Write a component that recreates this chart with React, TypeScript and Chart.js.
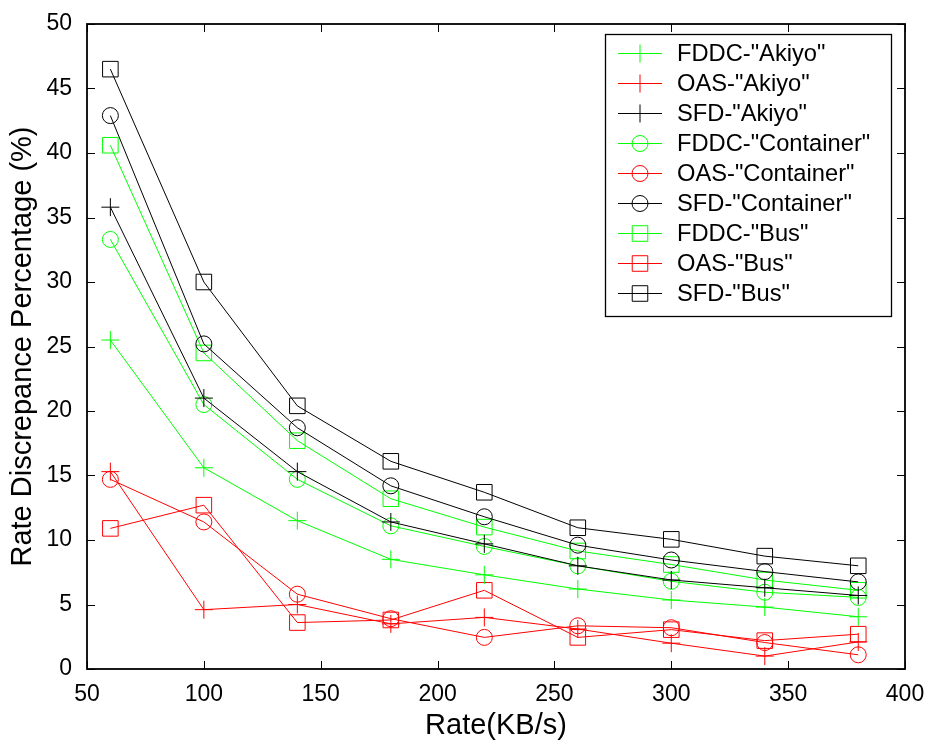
import React, { useEffect, useRef } from 'react';
import { Chart, registerables } from 'chart.js';
Chart.register(...registerables);

const rates = [60, 100, 140, 180, 220, 260, 300, 340, 380];
const fddcAkiyo = [25.5, 15.6, 11.5, 8.5, 7.3, 6.2, 5.35, 4.8, 4.05];
const oasAkiyo = [15.3, 4.6, 5.0, 3.5, 4.0, 3.1, 2.0, 1.0, 2.1];
const sfdAkiyo = [35.8, 21.0, 15.3, 11.4, 9.7, 8.0, 6.9, 6.3, 5.7];
const fddcContainer = [33.3, 20.5, 14.7, 11.1, 9.5, 8.0, 6.8, 5.95, 5.55];
const oasContainer = [14.7, 11.4, 5.8, 3.9, 2.45, 3.35, 3.2, 2.05, 1.1];
const sfdContainer = [42.9, 25.2, 18.7, 14.2, 11.8, 9.6, 8.45, 7.55, 6.75];
const fddcBus = [40.6, 24.5, 17.7, 13.2, 11.0, 9.15, 8.1, 6.9, 6.1];
const oasBus = [10.9, 12.7, 3.6, 3.8, 6.1, 2.45, 3.05, 2.2, 2.7];
const sfdBus = [46.5, 30.0, 20.4, 16.1, 13.7, 10.95, 10.05, 8.75, 8.0];

const seriesNames = [
  'FDDC-"Akiyo"', 'OAS-"Akiyo"', 'SFD-"Akiyo"',
  'FDDC-"Container"', 'OAS-"Container"', 'SFD-"Container"',
  'FDDC-"Bus"', 'OAS-"Bus"', 'SFD-"Bus"',
];
const seriesValues = [
  fddcAkiyo, oasAkiyo, sfdAkiyo,
  fddcContainer, oasContainer, sfdContainer,
  fddcBus, oasBus, sfdBus,
];
const xTicks = [50, 100, 150, 200, 250, 300, 350, 400];
const yTicks = [0, 5, 10, 15, 20, 25, 30, 35, 40, 45, 50];

const GREEN = '#00ff00';
const RED = '#ff0000';
const BLACK = '#000000';
const colors = [GREEN, RED, BLACK];
const styles = ['cross', 'circle', 'rect'];
const radii: Record<string, number> = { cross: 9, circle: 8, rect: 11 };
const FONT = '"Liberation Sans", Arial, sans-serif';

function drawMarker(ctx: CanvasRenderingContext2D, style: string, x: number, y: number, color: string) {
  ctx.save();
  ctx.strokeStyle = color;
  ctx.lineWidth = 1;
  ctx.beginPath();
  if (style === 'cross') {
    const r = radii.cross;
    ctx.moveTo(x - r, y); ctx.lineTo(x + r, y);
    ctx.moveTo(x, y - r); ctx.lineTo(x, y + r);
  } else if (style === 'circle') {
    ctx.arc(x, y, radii.circle, 0, Math.PI * 2);
  } else {
    const s = radii.rect * Math.SQRT1_2;
    ctx.rect(x - s, y - s, 2 * s, 2 * s);
  }
  ctx.stroke();
  ctx.restore();
}

const frame = {
  id: 'frame',
  afterDraw(chart: any) {
    const ctx: CanvasRenderingContext2D = chart.ctx;
    const { left, right, top, bottom } = chart.chartArea;
    const xs = chart.scales.x;
    const ys = chart.scales.y;
    ctx.save();
    ctx.strokeStyle = '#000';
    ctx.lineWidth = 1.8;
    ctx.strokeRect(left, top, right - left, bottom - top);
    ctx.lineWidth = 1;
    ctx.beginPath();
    const tl = 8;
    xTicks.forEach((v) => {
      const px = Math.round(xs.getPixelForValue(v)) + 0.5;
      ctx.moveTo(px, bottom); ctx.lineTo(px, bottom - tl);
      ctx.moveTo(px, top); ctx.lineTo(px, top + tl);
    });
    yTicks.forEach((v) => {
      const py = Math.round(ys.getPixelForValue(v)) + 0.5;
      ctx.moveTo(left, py); ctx.lineTo(left + tl, py);
      ctx.moveTo(right, py); ctx.lineTo(right - tl, py);
    });
    ctx.stroke();

    // legend
    const bx = 605.5, by = 34.5, bw = 286, bh = 282;
    ctx.fillStyle = '#fff';
    ctx.fillRect(bx, by, bw, bh);
    ctx.strokeStyle = '#000';
    ctx.lineWidth = 1.3;
    ctx.strokeRect(bx, by, bw, bh);
    ctx.font = `23.7px ${FONT}`;
    ctx.textBaseline = 'middle';
    ctx.textAlign = 'left';
    chart.data.datasets.forEach((ds: any, i: number) => {
      const y = 53.5 + 30 * i;
      ctx.strokeStyle = ds.borderColor;
      ctx.lineWidth = 1;
      ctx.beginPath();
      ctx.moveTo(618, y); ctx.lineTo(662, y);
      ctx.stroke();
      drawMarker(ctx, ds.pointStyle, 640, y, ds.borderColor);
      ctx.fillStyle = '#000';
      ctx.fillText(ds.label, 677, y + 1);
    });
    ctx.restore();
  },
};

export default function App() {
  const ref = useRef<HTMLCanvasElement>(null);
  useEffect(() => {
    if (!ref.current) return;
    const datasets = seriesNames.map((name, i) => {
      const color = colors[i % 3];
      const style = styles[Math.floor(i / 3)];
      return {
        label: name,
        data: rates.map((r, j) => ({ x: r, y: seriesValues[i][j] })),
        borderColor: color,
        backgroundColor: 'transparent',
        borderWidth: 1,
        pointStyle: style,
        pointRadius: radii[style],
        pointBorderWidth: 1,
        pointBorderColor: color,
        pointBackgroundColor: 'transparent',
        tension: 0,
        fill: false,
        clip: false as any,
      };
    });
    const chart = new Chart(ref.current, {
      type: 'line',
      data: { datasets },
      plugins: [frame],
      options: {
        animation: false,
        responsive: false,
        devicePixelRatio: 1,
        layout: { padding: { left: 0, right: 24, top: 24, bottom: 0 } },
        plugins: { legend: { display: false }, tooltip: { enabled: false } },
        scales: {
          x: {
            type: 'linear',
            min: 50,
            max: 400,
            afterFit: (s: any) => { s.height = 71; },
            afterBuildTicks: (s: any) => { s.ticks = xTicks.map((v) => ({ value: v })); },
            grid: { display: false },
            border: { display: false },
            ticks: { color: '#000', font: { family: FONT, size: 23 }, padding: 4, maxRotation: 0 },
            title: {
              display: true,
              text: 'Rate(KB/s)',
              color: '#000',
              font: { family: FONT, size: 29, lineHeight: 1 },
              padding: { top: 0, bottom: 0 },
            },
          },
          y: {
            type: 'linear',
            min: 0,
            max: 50,
            afterFit: (s: any) => { s.width = 87; },
            afterBuildTicks: (s: any) => { s.ticks = yTicks.map((v) => ({ value: v })); },
            grid: { display: false },
            border: { display: false },
            ticks: { color: '#000', font: { family: FONT, size: 23 }, padding: 7 },
            title: {
              display: true,
              text: 'Rate Discrepance Percentage (%)',
              color: '#000',
              font: { family: FONT, size: 29, lineHeight: 1 },
              padding: { top: 8, bottom: 0 },
            },
          },
        },
      },
    });
    return () => chart.destroy();
  }, []);
  return (
    <div style={{ position: 'fixed', left: 0, top: 0, width: 929, height: 740, background: '#fff' }}>
      <canvas ref={ref} width={929} height={740} style={{ display: 'block', width: 929, height: 740 }} />
    </div>
  );
}
